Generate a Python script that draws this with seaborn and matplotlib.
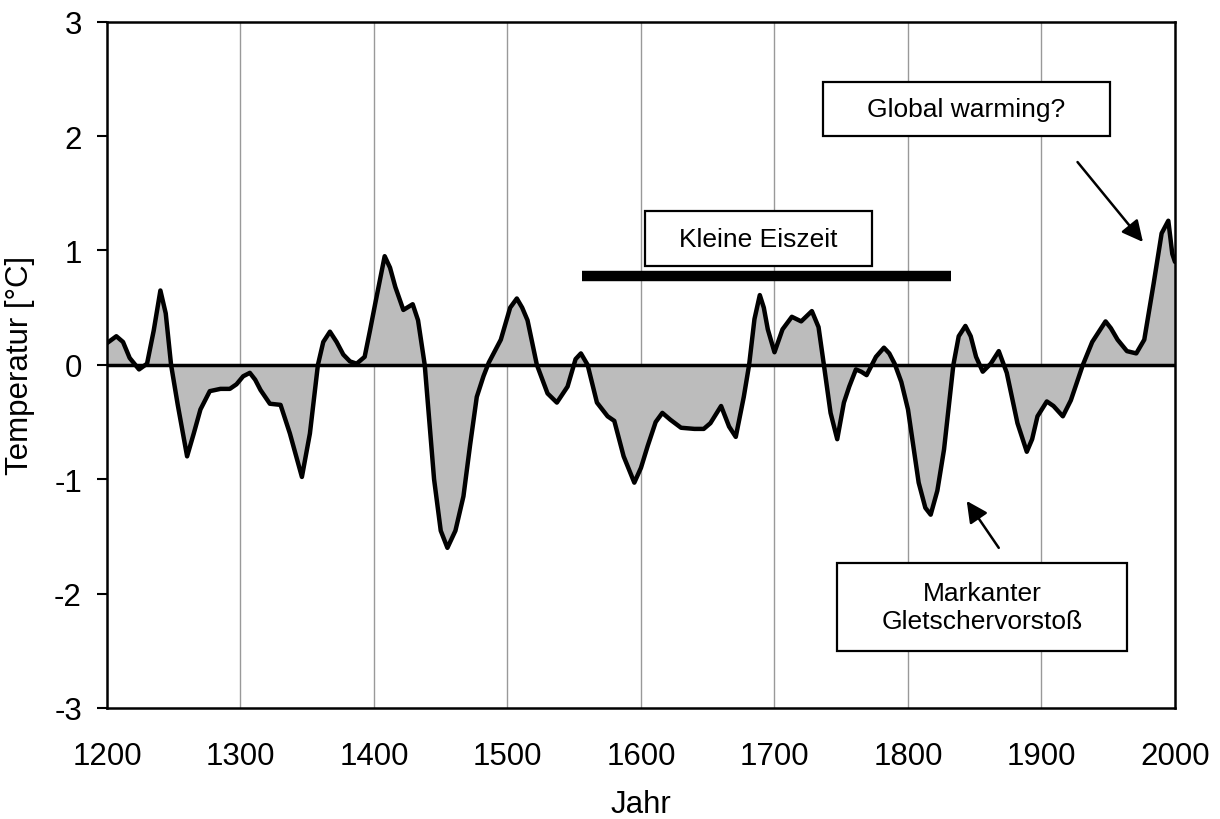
import numpy as np
import pandas as pd
import matplotlib
matplotlib.use('Agg')
import matplotlib.pyplot as plt
import seaborn as sns
from matplotlib.patches import Rectangle

# Temperaturverlauf
jahre = [1200, 1207, 1212, 1217, 1224, 1230, 1235, 1240, 1244, 1248, 1253, 1260, 1265, 1270,
         1277, 1285, 1292, 1297, 1302, 1307, 1311, 1315, 1322, 1330, 1337, 1346, 1352, 1358,
         1362, 1367, 1372, 1377, 1382, 1387, 1393, 1397, 1401, 1408, 1412, 1416, 1422, 1429,
         1433, 1438, 1445, 1450, 1455, 1461, 1467, 1472, 1477, 1482, 1486, 1495, 1502, 1507,
         1511, 1515, 1522, 1530, 1537, 1545, 1551, 1555, 1560, 1567, 1575, 1580, 1587, 1595,
         1600, 1605, 1611, 1616, 1622, 1630, 1640, 1647, 1652, 1660, 1666, 1671, 1677, 1681,
         1685, 1689, 1692, 1695, 1700, 1706, 1713, 1720, 1728, 1733, 1737, 1742, 1747, 1752,
         1756, 1761, 1765, 1769, 1776, 1782, 1786, 1790, 1795, 1800, 1808, 1813, 1817, 1822,
         1827, 1834, 1838, 1843, 1847, 1851, 1856, 1862, 1868, 1874, 1882, 1889, 1893, 1897,
         1904, 1909, 1916, 1922, 1931, 1938, 1948, 1952, 1957, 1964, 1971, 1977, 1984, 1990,
         1995, 1998, 2000]
temperatur = [0.19, 0.25, 0.20, 0.06, -0.04, 0.01, 0.30, 0.65, 0.45, 0.0, -0.35, -0.80, -0.60, -0.39,
              -0.23, -0.21, -0.21, -0.17, -0.10, -0.07, -0.13, -0.22, -0.34, -0.35, -0.60, -0.98, -0.60, 0.0,
              0.20, 0.29, 0.20, 0.09, 0.03, 0.01, 0.07, 0.30, 0.54, 0.95, 0.85, 0.68, 0.48, 0.53,
              0.39, 0.0, -1.0, -1.45, -1.60, -1.45, -1.15, -0.70, -0.28, -0.10, 0.02, 0.22, 0.50, 0.58,
              0.50, 0.39, 0.0, -0.25, -0.33, -0.19, 0.05, 0.10, 0.0, -0.33, -0.45, -0.49, -0.80, -1.03,
              -0.90, -0.71, -0.50, -0.42, -0.48, -0.55, -0.56, -0.56, -0.51, -0.36, -0.54, -0.63, -0.28, 0.0,
              0.40, 0.61, 0.50, 0.31, 0.11, 0.31, 0.42, 0.38, 0.47, 0.33, 0.0, -0.42, -0.65, -0.33,
              -0.19, -0.04, -0.06, -0.09, 0.07, 0.15, 0.10, 0.01, -0.15, -0.39, -1.03, -1.25, -1.31, -1.10,
              -0.74, 0.0, 0.25, 0.34, 0.25, 0.07, -0.06, 0.01, 0.12, -0.07, -0.51, -0.76, -0.65, -0.45,
              -0.32, -0.36, -0.45, -0.31, 0.0, 0.20, 0.38, 0.32, 0.22, 0.12, 0.10, 0.22, 0.71, 1.15,
              1.26, 0.97, 0.90]

x_ticks = list(range(1200, 2001, 100))
y_ticks = [-3, -2, -1, 0, 1, 2, 3]

# Periode der Kleinen Eiszeit (Balken)
eiszeit = [1556, 1832]

df = pd.DataFrame({'Jahr': jahre, 'Temperatur': temperatur})

sns.set_style('white')
plt.rcParams['font.family'] = ['Liberation Sans', 'DejaVu Sans']
plt.rcParams['axes.unicode_minus'] = False
for key in ['text.color', 'axes.labelcolor', 'xtick.color', 'ytick.color']:
    plt.rcParams[key] = 'black'

fig = plt.figure(figsize=(12.2, 8.2), dpi=100)
ax = fig.add_axes([0.0877, 0.1354, 0.9631 - 0.0877, 0.9723 - 0.1354])

# vertikale Gitterlinien
for xt in x_ticks[1:-1]:
    ax.axvline(xt, color='#999999', lw=1.0, zorder=0)

ax.fill_between(df['Jahr'], df['Temperatur'], 0, color='#bcbcbc', lw=0, zorder=1)
ax.axhline(0, color='black', lw=2.5, zorder=2)
sns.lineplot(data=df, x='Jahr', y='Temperatur', ax=ax, color='black', lw=3.2,
             zorder=3, solid_joinstyle='round', solid_capstyle='round')

ax.set_xlim(1200, 2000)
ax.set_ylim(-3, 3)
ax.set_xticks(x_ticks)
ax.set_yticks(y_ticks)
ax.set_yticklabels([str(v) for v in y_ticks])
ax.tick_params(axis='x', length=0, pad=24, labelsize=22.5)
ax.tick_params(axis='y', length=7, width=1.5, pad=11, labelsize=22.5, direction='out', left=True)
for sp in ax.spines.values():
    sp.set_color('black')
    sp.set_linewidth(1.8)

ax.set_xlabel('Jahr', fontsize=22.5, labelpad=13)
ax.set_ylabel('Temperatur [°C]', fontsize=22.5, labelpad=14)

# Balken Kleine Eiszeit
ax.plot(eiszeit, [0.777, 0.777], color='black', lw=7.5, solid_capstyle='butt', zorder=4)


def textbox(x0, x1, y0, y1, text):
    ax.add_patch(Rectangle((x0, y0), x1 - x0, y1 - y0, facecolor='white',
                           edgecolor='black', lw=1.6, zorder=5))
    ax.text((x0 + x1) / 2, (y0 + y1) / 2, text, ha='center', va='center',
            fontsize=19, zorder=6, linespacing=1.2)


textbox(1603, 1773, 0.864, 1.345, 'Kleine Eiszeit')
textbox(1736, 1951, 2.003, 2.476, 'Global warming?')
textbox(1747, 1964, -2.502, -1.733, 'Markanter\nGletschervorstoß')

arrow = dict(arrowstyle='-|>', color='black', lw=1.8, mutation_scale=32, shrinkA=0, shrinkB=0)
ax.annotate('', xy=(1976, 1.074), xytext=(1927, 1.773), arrowprops=arrow, zorder=6)
ax.annotate('', xy=(1844, -1.19), xytext=(1868, -1.60), arrowprops=arrow, zorder=6)

fig.savefig('out.png', dpi=100)
